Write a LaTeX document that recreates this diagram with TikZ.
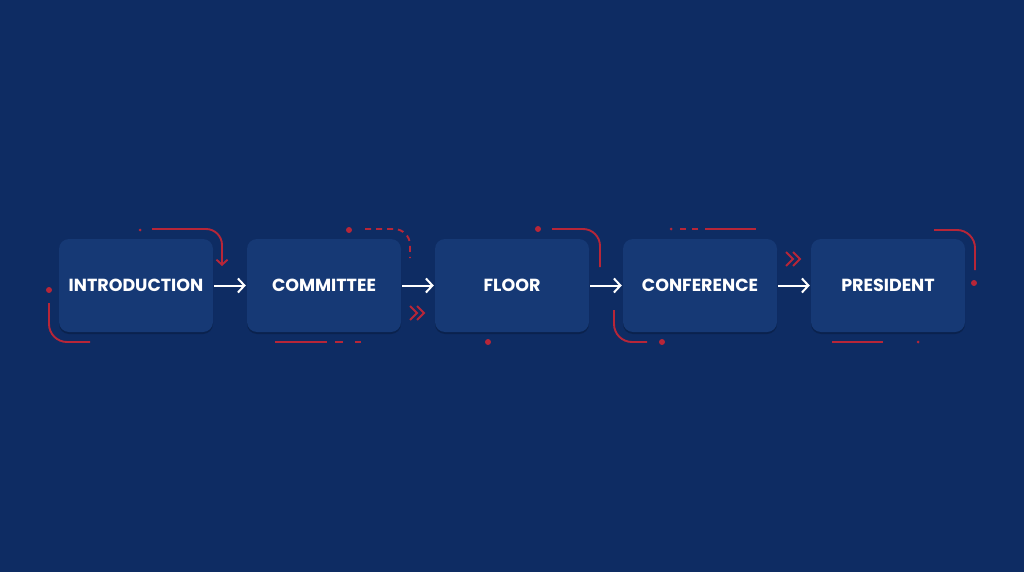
\documentclass[tikz,border=0pt]{standalone}
\usepackage{fontspec}
\setmainfont{Poppins}
\usetikzlibrary{arrows.meta,shadows}
\definecolor{grund}{RGB}{14,44,99}
\definecolor{kasten}{RGB}{22,57,117}
\definecolor{rot}{RGB}{183,38,56}
\tikzset{
	stufe/.style={fill=kasten,rounded corners=10pt,minimum width=154pt,minimum height=93pt,
		text=white,font=\bfseries\fontsize{17.5}{20}\selectfont,
		drop shadow={opacity=0.3,fill=black!70!grund,shadow xshift=0pt,shadow yshift=-2pt}},
	pfeil/.style={white,line width=2pt,-{Straight Barb[length=6.5pt,width=14pt]},shorten <=1pt,shorten >=1pt},
	deko/.style={rot,line width=1.9pt},
}
\begin{document}
\begin{tikzpicture}[x=1pt,y=-1pt]
\def\punktrot#1#2{\fill[rot] #1 circle (#2pt);}
\def\doppelpfeil#1{
\begin{scope}[shift={#1}]
	\draw[deko] (-7,-7) -- (0,0) -- (-7,7);
	\draw[deko] (0,-7) -- (7,0) -- (0,7);
\end{scope}
}
\fill[grund] (0,0) rectangle (1024,572);
\useasboundingbox (0,0) rectangle (1024,572);
% Stufen
\foreach \name/\text [count=\i] in {intro/INTRODUCTION,comm/COMMITTEE,floor/FLOOR,conf/CONFERENCE,pres/PRESIDENT}
	\node[stufe] (\name) at ({136+188*(\i-1)},285.5) {\text};
\foreach \a/\b in {intro/comm,comm/floor,floor/conf,conf/pres}
	\draw[pfeil] (\a) -- (\b);
% Verzierungen
\punktrot{(140,230)}{1.5}
\draw[deko,rounded corners=16pt,-{Straight Barb[length=5pt,width=11pt]}] (152,229) -- (222,229) -- (222,266);
\punktrot{(49,290)}{3}
\draw[deko,rounded corners=18pt] (49,303) -- (49,342) -- (90,342);
\punktrot{(349,230)}{3}
\draw[deko,rounded corners=16pt,dash pattern=on 6pt off 5pt] (365,229) -- (410,229) -- (410,258);
\doppelpfeil{(417,313)}
\draw[deko] (275,342) -- (327,342);
\draw[deko] (335,342) -- (343,342);
\draw[deko] (355,342) -- (361,342);
\punktrot{(538,229)}{3}
\draw[deko,rounded corners=17pt] (552,229) -- (600,229) -- (600,267);
\punktrot{(488,342)}{3}
\punktrot{(671,229)}{1.5}
\draw[deko] (680,229) -- (686,229);
\draw[deko] (692,229) -- (698,229);
\draw[deko] (705,229) -- (756,229);
\doppelpfeil{(793,259)}
\draw[deko,rounded corners=18pt] (614,310) -- (614,342) -- (647,342);
\punktrot{(662,342)}{3}
\draw[deko,rounded corners=18pt] (934,230) -- (975,230) -- (975,270);
\punktrot{(974,283)}{3}
\draw[deko] (832,342) -- (883,342);
\punktrot{(918,342)}{1.5}
\end{tikzpicture}
\end{document}
